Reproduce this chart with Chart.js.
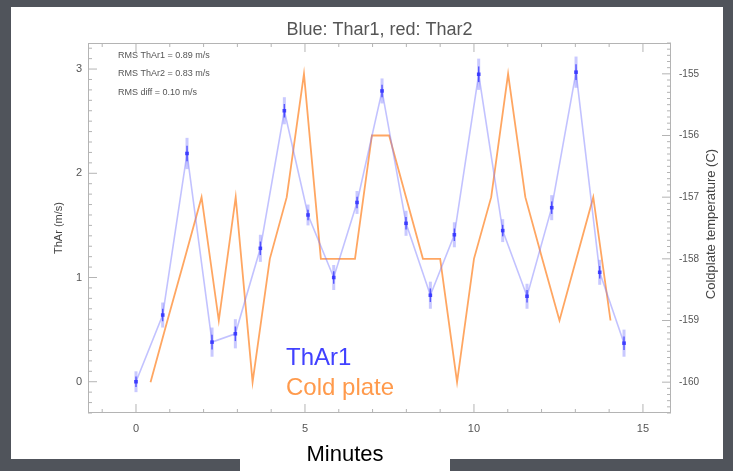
<!DOCTYPE html>
<html>
<head>
<meta charset="utf-8">
<script src="https://cdn.jsdelivr.net/npm/chart.js@4/dist/chart.umd.min.js"></script>
<style>
  body { margin: 0; background: #50545b; }
  canvas { display: block; }
</style>
</head>
<body>
<canvas id="grafico" width="733" height="471"></canvas>
<script>
// Datos ThAr1 (minutos, m/s, error)
const blueTimes = [0, 0.79, 1.51, 2.25, 2.94, 3.68, 4.39, 5.09, 5.85, 6.54, 7.28,
  7.99, 8.71, 9.42, 10.14, 10.85, 11.57, 12.30, 13.02, 13.72, 14.44];
const blueValues = [0.00, 0.64, 2.19, 0.38, 0.46, 1.28, 2.60, 1.60, 1.00, 1.72, 2.79,
  1.52, 0.83, 1.41, 2.95, 1.45, 0.82, 1.67, 2.97, 1.05, 0.37];
const blueErrors = [0.10, 0.12, 0.15, 0.14, 0.14, 0.13, 0.13, 0.10, 0.12, 0.11, 0.12,
  0.12, 0.13, 0.12, 0.15, 0.11, 0.12, 0.12, 0.15, 0.12, 0.13];

// Datos placa fria (minutos, grados C)
const plateTimes = [0.43, 0.93, 1.44, 1.94, 2.45, 2.95, 3.45, 3.96, 4.46, 4.97,
  5.47, 5.97, 6.48, 6.98, 7.49, 7.99, 8.49, 9.00, 9.50, 10.00, 10.51, 11.01,
  11.52, 12.02, 12.53, 13.03, 13.53, 14.04];
const plateTemps = [-160, -159, -158, -157, -159, -157, -160, -158, -157, -155,
  -158, -158, -158, -156, -156, -157, -158, -158, -160, -158, -157, -155,
  -157, -158, -159, -158, -157, -159];

// Etiquetas de ejes
const xTicks = [0, 5, 10, 15];
const leftTicks = [0, 1, 2, 3];
const rightTicks = [-160, -159, -158, -157, -156, -155];

const bluePoints = blueTimes.map((t, i) => ({ x: t, y: blueValues[i] }));
const platePoints = plateTimes.map((t, i) => ({ x: t, y: plateTemps[i] }));

// Marcas hacia dentro (estilo IDL)
function marcas(scale, from, to, minor, major, draw) {
  const n = Math.round((to - from) / minor);
  for (let i = 0; i <= n; i++) {
    const v = from + i * minor;
    const esMayor = Math.abs(v / major - Math.round(v / major)) < 1e-6;
    draw(scale.getPixelForValue(v), esMayor ? 9 : 4);
  }
}

const marco = {
  id: 'marco',
  beforeDraw(chart) {
    const c = chart.ctx;
    c.save();
    c.fillStyle = '#50545b';
    c.fillRect(0, 0, 733, 471);
    c.fillStyle = '#ffffff';
    c.fillRect(11, 7, 712, 452);
    c.fillRect(240, 458, 210, 13);
    c.restore();
  },
  afterDatasetsDraw(chart) {
    const c = chart.ctx;
    const x = chart.scales.x, y = chart.scales.y;
    c.save();
    blueTimes.forEach((t, i) => {
      const px = x.getPixelForValue(t);
      const top = y.getPixelForValue(blueValues[i] + blueErrors[i]);
      const bot = y.getPixelForValue(blueValues[i] - blueErrors[i]);
      const mid = y.getPixelForValue(blueValues[i]);
      c.strokeStyle = 'rgba(120,120,255,0.4)';
      c.lineWidth = 3;
      c.beginPath(); c.moveTo(px, top); c.lineTo(px, bot); c.stroke();
      c.strokeStyle = 'rgba(50,50,255,0.75)';
      c.lineWidth = 1.4;
      c.beginPath();
      c.moveTo(px, mid - (mid - top) * 0.5);
      c.lineTo(px, mid + (bot - mid) * 0.5);
      c.stroke();
    });
    c.restore();
  },
  afterDraw(chart) {
    const c = chart.ctx;
    const a = chart.chartArea;
    const { x, y, y1 } = chart.scales;
    c.save();
    c.strokeStyle = '#b4b4b4';
    c.lineWidth = 1;
    c.strokeRect(a.left + 0.5, a.top + 0.5, a.right - a.left - 1, a.bottom - a.top - 1);

    c.beginPath();
    marcas(x, -1, 15, 1, 5, (p, l) => {
      c.moveTo(p, a.bottom); c.lineTo(p, a.bottom - l);
      c.moveTo(p, a.top); c.lineTo(p, a.top + l);
    });
    marcas(y, -0.3, 3.2, 0.1, 1, (p, l) => {
      c.moveTo(a.left, p); c.lineTo(a.left + l, p);
    });
    marcas(y1, -160.5, -154.5, 0.1, 1, (p, l) => {
      c.moveTo(a.right, p); c.lineTo(a.right - l, p);
    });
    c.stroke();

    // Titulo
    c.fillStyle = '#555';
    c.font = '18px "Liberation Sans", Arial, sans-serif';
    c.textAlign = 'center';
    c.textBaseline = 'middle';
    c.fillText('Blue: Thar1, red: Thar2', (a.left + a.right) / 2, 30);

    // Titulos de ejes
    c.fillStyle = '#444';
    c.save();
    c.translate(59, (a.top + a.bottom) / 2);
    c.rotate(-Math.PI / 2);
    c.font = '11px "Liberation Sans", Arial, sans-serif';
    c.fillText('ThAr (m/s)', 0, 0);
    c.restore();
    c.save();
    c.translate(711, 224);
    c.rotate(-Math.PI / 2);
    c.font = '13px "Liberation Sans", Arial, sans-serif';
    c.fillText('Coldplate temperature (C)', 0, 0);
    c.restore();

    c.fillStyle = '#000';
    c.font = '22px "Liberation Sans", Arial, sans-serif';
    c.fillText('Minutes', 345, 455);

    // Notas RMS
    c.textAlign = 'left';
    c.fillStyle = '#555';
    c.font = '9px "Liberation Sans", Arial, sans-serif';
    c.fillText('RMS ThAr1 = 0.89 m/s', 118, 56);
    c.fillText('RMS ThAr2 = 0.83 m/s', 118, 74);
    c.fillText('RMS diff = 0.10 m/s', 118, 93);

    // Leyenda
    c.textBaseline = 'alphabetic';
    c.font = '24px "Liberation Sans", Arial, sans-serif';
    c.fillStyle = '#4141ff';
    c.fillText('ThAr1', 286, 365);
    c.fillStyle = '#ff9a4c';
    c.fillText('Cold plate', 286, 395);
    c.restore();
  }
};

const tickFont = { family: '"Liberation Sans", Arial, sans-serif', size: 11 };
const tickFontRight = { family: '"Liberation Sans", Arial, sans-serif', size: 10 };

const ctx = document.getElementById('grafico').getContext('2d');
const grafico = new Chart(ctx, {
  type: 'line',
  data: {
    datasets: [
      {
        label: 'ThAr1',
        data: bluePoints,
        yAxisID: 'y',
        borderColor: 'rgba(120,120,255,0.45)',
        borderWidth: 1.6,
        tension: 0,
        pointStyle: 'rect',
        pointRadius: 2.5,
        pointBorderWidth: 0,
        pointBackgroundColor: '#2b2bff',
      },
      {
        label: 'Cold plate',
        data: platePoints,
        yAxisID: 'y1',
        borderColor: 'rgba(255,150,70,0.85)',
        borderWidth: 1.8,
        tension: 0,
        pointRadius: 0,
      }
    ]
  },
  options: {
    responsive: false,
    animation: false,
    devicePixelRatio: 1,
    layout: { padding: { top: 43, left: 0, right: 0, bottom: 0 } },
    plugins: {
      legend: { display: false },
      title: { display: false },
      tooltip: { enabled: false }
    },
    scales: {
      x: {
        type: 'linear',
        min: -1.42,
        max: 15.83,
        afterBuildTicks: s => { s.ticks = xTicks.map(v => ({ value: v })); },
        afterFit: s => { s.height = 58; },
        grid: { display: false, drawTicks: false },
        border: { display: false },
        ticks: { color: '#555', font: tickFont, padding: 9, maxRotation: 0 }
      },
      y: {
        position: 'left',
        min: -0.3,
        max: 3.25,
        afterBuildTicks: s => { s.ticks = leftTicks.map(v => ({ value: v })); },
        afterFit: s => { s.width = 88; },
        grid: { display: false, drawTicks: false },
        border: { display: false },
        ticks: { color: '#555', font: tickFont, padding: 6 }
      },
      y1: {
        position: 'right',
        min: -160.5,
        max: -154.5,
        afterBuildTicks: s => { s.ticks = rightTicks.map(v => ({ value: v })); },
        afterFit: s => { s.width = 62; },
        grid: { display: false, drawTicks: false },
        border: { display: false },
        ticks: { color: '#555', font: tickFontRight, padding: 8 }
      }
    }
  },
  plugins: [marco]
});
</script>
</body>
</html>
